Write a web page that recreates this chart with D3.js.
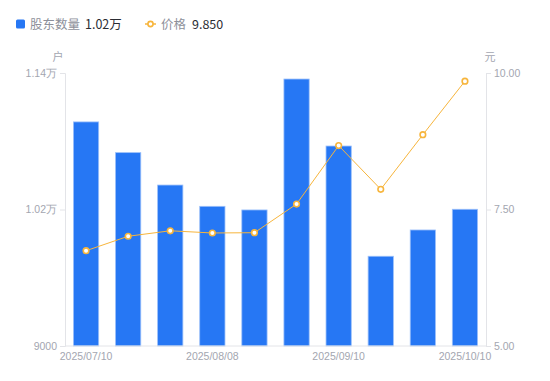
<!DOCTYPE html>
<html>
<head>
<meta charset="utf-8">
<script src="https://cdn.jsdelivr.net/npm/d3@7"></script>
<style>
body{margin:0;background:#fff;font-family:"Noto Sans CJK SC","Noto Sans",sans-serif;}
</style>
</head>
<body>
<svg width="550" height="381"></svg>
<script>
const dates=['2025/07/10','2025/07/18','2025/07/31','2025/08/08','2025/08/20','2025/08/29','2025/09/10','2025/09/19','2025/09/30','2025/10/10'];
const holders=[10970,10700,10415,10228,10196,11347,10758,9789,10020,10202];
const prices=[6.745,7.01,7.11,7.07,7.075,7.60,8.67,7.87,8.87,9.85];
const shownDates=['2025/07/10','2025/08/08','2025/09/10','2025/10/10'];
const leftTicks=[9000,10200,11400];
const rightTicks=[5,7.5,10];

const svg=d3.select('svg');
const margin={top:73,right:64,bottom:35,left:65};
const W=550,H=381;
const grey='#a3a6b0',axisClr='#e3e4e8';

const x=d3.scaleBand().domain(dates).range([margin.left,W-margin.right]).paddingInner(0.4).paddingOuter(0.2);
const yL=d3.scaleLinear().domain([9000,11400]).range([H-margin.bottom,margin.top]);
const yR=d3.scaleLinear().domain([5,10]).range([H-margin.bottom,margin.top]);

const fmtL=v=>v>=10000?(v/10000).toFixed(2)+'万':String(v);

// bars
svg.append('g').selectAll('rect').data(holders).enter().append('rect')
  .attr('x',(d,i)=>x(dates[i]))
  .attr('width',x.bandwidth())
  .attr('y',d=>yL(d))
  .attr('height',d=>yL(9000)-yL(d))
  .attr('fill','#2677f4')
  .attr('stroke','#9cc0fa').attr('stroke-width',0.8);

// axes
const axL=svg.append('g').attr('transform',`translate(${margin.left},0)`)
  .call(d3.axisLeft(yL).tickValues(leftTicks).tickFormat(fmtL).tickSize(5).tickPadding(3));
const axR=svg.append('g').attr('transform',`translate(${W-margin.right},0)`)
  .call(d3.axisRight(yR).tickValues(rightTicks).tickFormat(d3.format('.2f')).tickSize(5).tickPadding(3));
const axB=svg.append('g').attr('transform',`translate(0,${H-margin.bottom})`)
  .call(d3.axisBottom(x).tickValues(shownDates).tickSize(0).tickPadding(7));
[axL,axR,axB].forEach(a=>{
  a.selectAll('path,line').attr('stroke',axisClr);
  a.selectAll('text').attr('fill',grey).style('font-family','Liberation Sans, Arial, sans-serif').style('font-size','10.5px');
});
axB.select('.domain').attr('d',`M${margin.left},0H${W-margin.right}`);

// unit labels
svg.append('text').attr('x',58).attr('y',61).attr('text-anchor','middle').attr('fill',grey).style('font-size','11px').text('户');
svg.append('text').attr('x',490).attr('y',61).attr('text-anchor','middle').attr('fill',grey).style('font-size','11px').text('元');

// price line
const cx=(d,i)=>x(dates[i])+x.bandwidth()/2;
svg.append('path').datum(prices)
  .attr('d',d3.line().x(cx).y(d=>yR(d)))
  .attr('fill','none').attr('stroke','#f7b53c').attr('stroke-width',1);
svg.append('g').selectAll('circle').data(prices).enter().append('circle')
  .attr('cx',cx).attr('cy',d=>yR(d)).attr('r',2.8)
  .attr('fill','#fff').attr('stroke','#f7b53c').attr('stroke-width',1.6);

// legend
const lg=svg.append('g').style('font-size','12.5px');
lg.append('rect').attr('x',16).attr('y',19.5).attr('width',9).attr('height',9).attr('rx',1.5).attr('fill','#2677f4');
lg.append('text').attr('x',30).attr('y',29).attr('fill','#8d909a').text('股东数量');
lg.append('text').attr('x',85).attr('y',29).attr('fill','#2a2c33').text('1.02万');
lg.append('line').attr('x1',145).attr('x2',156).attr('y1',24).attr('y2',24).attr('stroke','#f7b53c').attr('stroke-width',1.5);
lg.append('circle').attr('cx',150.5).attr('cy',24).attr('r',2.6).attr('fill','#fff').attr('stroke','#f7b53c').attr('stroke-width',1.6);
lg.append('text').attr('x',161).attr('y',29).attr('fill','#8d909a').text('价格');
lg.append('text').attr('x',192).attr('y',29).attr('fill','#2a2c33').text('9.850');
</script>
</body>
</html>
